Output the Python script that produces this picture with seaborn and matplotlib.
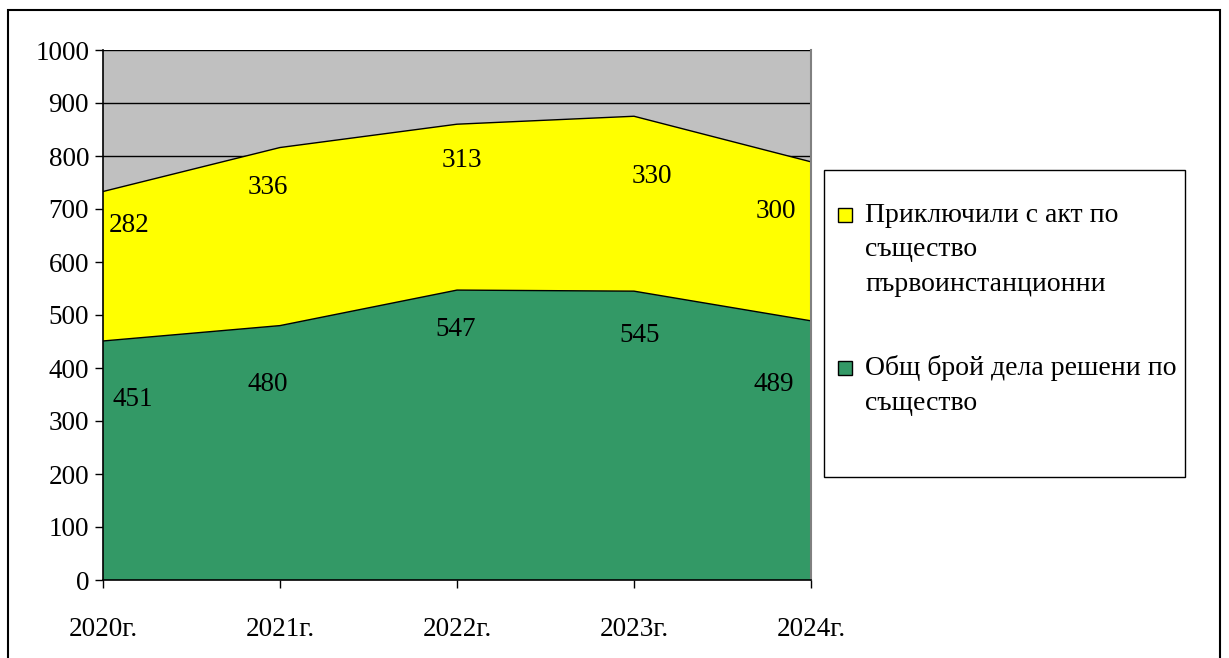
import matplotlib
matplotlib.use("Agg")
import matplotlib.pyplot as plt
import seaborn as sns
import pandas as pd
from matplotlib.patches import Rectangle

# ---- data ----
years = ["2020г.", "2021г.", "2022г.", "2023г.", "2024г."]
solved = [451, 480, 547, 545, 489]
first_instance = [282, 336, 313, 330, 300]
series_names = ["Общ брой дела решени по\nсъщество",
                "Приключили с акт по\nсъщество\nпървоинстанционни"]
y_ticks = list(range(0, 1001, 100))

# ---- layout (label placement, not data) ----
green_lbl_dx = [0.17, -0.07, -0.01, 0.03, -0.21]
green_lbl_y = [340, 368, 472, 462, 368]
yellow_lbl_dx = [0.15, -0.07, 0.03, 0.10, -0.20]
yellow_lbl_y = [668, 740, 792, 762, 696]
legend_first_line_px = [215, 368]   # y (px from top) of first line of each entry
legend_line_step_px = 35

sns.set_style("white")
plt.rcParams['font.family'] = ['Liberation Serif', 'DejaVu Serif']

GREEN = "#339966"
YELLOW = "#FFFF00"
GRAY = "#C0C0C0"
FS = 19.5
W, H = 1229, 658

fig = plt.figure(figsize=(W/100, H/100), dpi=100)
ax = fig.add_axes([103/W, 1-580/H, (811-103)/W, (580-50)/H])

df = pd.DataFrame({"x": range(len(years)), "solved": solved,
                   "total": [a + b for a, b in zip(solved, first_instance)]})

ax.set_facecolor(GRAY)
for yv in y_ticks[1:]:
    ax.axhline(yv, color="black", lw=1.0, zorder=0.5)

ax.stackplot(df["x"], solved, first_instance, colors=[GREEN, YELLOW],
             edgecolor="none", zorder=1)
sns.lineplot(data=df, x="x", y="solved", color="black", lw=1.0, ax=ax, zorder=2)
sns.lineplot(data=df, x="x", y="total", color="black", lw=1.0, ax=ax, zorder=2)

for i in range(len(years)):
    ax.text(i + green_lbl_dx[i], green_lbl_y[i], str(solved[i]),
            ha="center", va="center", fontsize=FS, color="black", zorder=3)
    ax.text(i + yellow_lbl_dx[i], yellow_lbl_y[i], str(first_instance[i]),
            ha="center", va="center", fontsize=FS, color="black", zorder=3)

ax.set_xlim(0, len(years) - 1)
ax.set_ylim(0, 1000)
ax.set_yticks(y_ticks)
ax.set_yticklabels([str(v) for v in y_ticks], fontsize=FS, color="black")
ax.set_xticks(range(len(years)))
ax.set_xticklabels(years, fontsize=FS, color="black")
ax.tick_params(axis="y", direction="out", length=6, width=1, color="black",
               left=True, pad=4)
ax.tick_params(axis="x", direction="out", length=6, width=1, color="black",
               bottom=True, pad=21)
ax.set_xlabel("")
ax.set_ylabel("")
ax.spines["top"].set_visible(False)
ax.spines["right"].set_color("#808080")
ax.spines["right"].set_linewidth(1.5)
for s in ["left", "bottom"]:
    ax.spines[s].set_color("black")
    ax.spines[s].set_linewidth(1.2)

# Legend box (drawn manually so handles align with first text line)
fig.patches.append(Rectangle((824/W, 1-477/H), (1185-824)/W, (477-170)/H,
                             transform=fig.transFigure, facecolor="white",
                             edgecolor="black", lw=1.0, zorder=0))
legend_entries = [(series_names[1], YELLOW), (series_names[0], GREEN)]
for (label, color), y0 in zip(legend_entries, legend_first_line_px):
    fig.patches.append(Rectangle((838/W, 1-(y0+7)/H), 14/W, 14/H,
                                 transform=fig.transFigure, facecolor=color,
                                 edgecolor="black", lw=1.0, zorder=2))
    for k, line in enumerate(label.split("\n")):
        fig.text(865/W, 1-(y0 + k*legend_line_step_px)/H, line,
                 ha="left", va="center", fontsize=20, color="black")

# Outer frame
fig.patches.append(Rectangle((8/W, -0.05), (1220-8)/W, 1.05 - 10/H,
                             transform=fig.transFigure, fill=False,
                             edgecolor="black", lw=1.5))

fig.savefig("out.png", dpi=100, facecolor="white")
